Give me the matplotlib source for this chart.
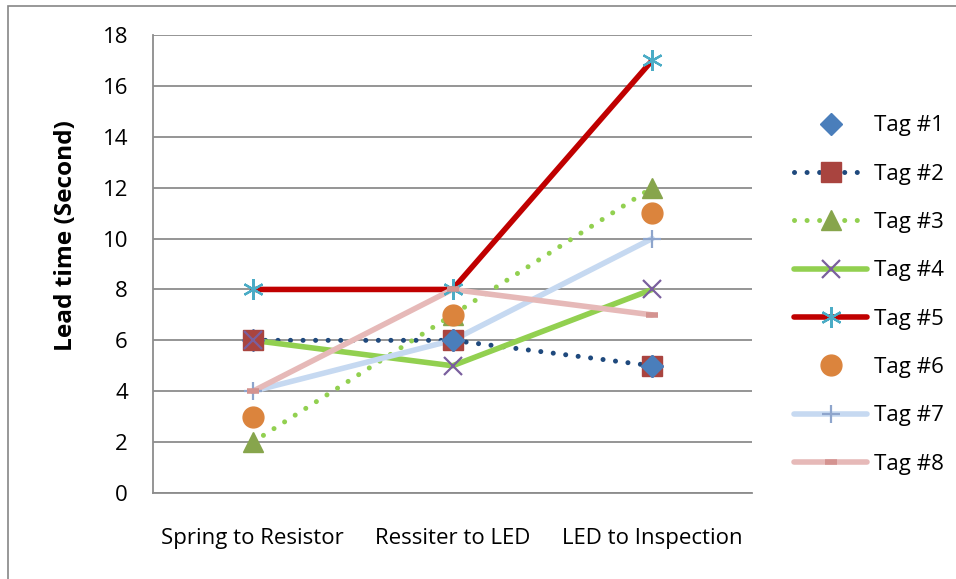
import matplotlib
matplotlib.use("Agg")
import matplotlib.pyplot as plt
from matplotlib.patches import Rectangle
from matplotlib.lines import Line2D

plt.rcParams['font.family'] = ['Open Sans', 'DejaVu Sans']

categories = ["Spring to Resistor", "Ressiter to LED", "LED to Inspection"]
tags = ["Tag #1", "Tag #2", "Tag #3", "Tag #4", "Tag #5", "Tag #6", "Tag #7", "Tag #8"]
tag1 = [6, 6, 5]
tag2 = [6, 6, 5]
tag3 = [2, 7, 12]
tag4 = [6, 5, 8]
tag5 = [8, 8, 17]
tag6 = [3, 7, 11]
tag7 = [4, 6, 10]
tag8 = [4, 8, 7]
yticks = [0, 2, 4, 6, 8, 10, 12, 14, 16, 18]

series = [tag1, tag2, tag3, tag4, tag5, tag6, tag7, tag8]

dpi = 100
fig = plt.figure(figsize=(956 / dpi, 579 / dpi), dpi=dpi)
ax = fig.add_axes([153 / 956, 1 - 493 / 579, (752 - 153) / 956, (493 - 35) / 579])

x = list(range(len(categories)))
dot = dict(linestyle=(0, (0.01, 2.5)), dash_capstyle='round', linewidth=3.6)
solid = dict(linewidth=4.0, solid_capstyle='round')
asterisk = dict(marker=(6, 2, 0), markersize=15, markeredgecolor='#4bacc6',
                markeredgewidth=1.6)
styles = [
    dict(linestyle='none', marker='D', markersize=11.5, color='#4a7ebb',
         markeredgecolor='#4a7ebb'),
    dict(color='#1f497d', marker='s', markersize=14.5, markerfacecolor='#a9443f',
         markeredgecolor='#a9443f', **dot),
    dict(color='#92d050', marker='^', markersize=15, markerfacecolor='#87a54c',
         markeredgecolor='#87a54c', **dot),
    dict(color='#92d050', marker='x', markersize=13.5, markeredgecolor='#7a5f9e',
         markeredgewidth=1.6, **solid),
    dict(color='#c00000', **asterisk, **solid),
    dict(linestyle='none', marker='o', markersize=15, color='#db843d',
         markeredgecolor='#db843d'),
    dict(color='#c6d9f1', marker='+', markersize=13.5, markeredgecolor='#8ea5cc',
         markeredgewidth=1.6, **solid),
    dict(color='#e6b9b8', marker='_', markersize=8, markeredgecolor='#d49390',
         markeredgewidth=4, **solid),
]

for i, (vals, st) in enumerate(zip(series, styles)):
    # lines underneath, markers stacked in series order
    line_kw = {k: v for k, v in st.items() if not k.startswith('marker')}
    ax.plot(x, vals, zorder=2 + i * 0.01, **{**line_kw, 'marker': 'none'})
    ax.plot(x, vals, zorder=3 + i * 0.01, **{**st, 'linestyle': 'none'})

# Tag #1 diamonds sit above the squares where the two series coincide
ax.plot(x, tag1, linestyle='none', marker='D', markersize=11.5, color='#4a7ebb',
        markevery=[1, 2], zorder=3.5)

ax.set_xlim(-0.5, len(categories) - 0.5)
ax.set_ylim(0, 18)
ax.set_yticks(yticks)
ax.set_xticks(x)
ax.set_xticklabels(categories)
ax.tick_params(axis='both', length=0, labelsize=16, colors='black')
ax.tick_params(axis='y', pad=18)
ax.tick_params(axis='x', pad=25)
ax.grid(axis='y', color='#8c8c8c', linewidth=1.3)
ax.set_axisbelow(True)
for side in ('top', 'right'):
    ax.spines[side].set_visible(False)
for side in ('left', 'bottom'):
    ax.spines[side].set_color('#8c8c8c')
    ax.spines[side].set_linewidth(1.3)

fig.text(66 / 956, 1 - 236 / 579, "Lead time (Second)", rotation=90,
         ha='center', va='center', fontsize=17.6, fontweight='bold')

leg_handles = [Line2D([], [], **st) for st in styles]
fig.legend(leg_handles, tags, loc='center left',
           bbox_to_anchor=(794 / 956, 1 - 295 / 579), frameon=False,
           fontsize=16, handlelength=3.3, handletextpad=0.3, labelspacing=1.23,
           borderpad=0, borderaxespad=0, numpoints=1)

fig.patches.append(Rectangle((8 / 956, -0.1), 1.2, 1.1 - 6 / 579,
                             transform=fig.transFigure, fill=False,
                             edgecolor='#868686', linewidth=1.2))

fig.savefig("out.png", dpi=dpi)
